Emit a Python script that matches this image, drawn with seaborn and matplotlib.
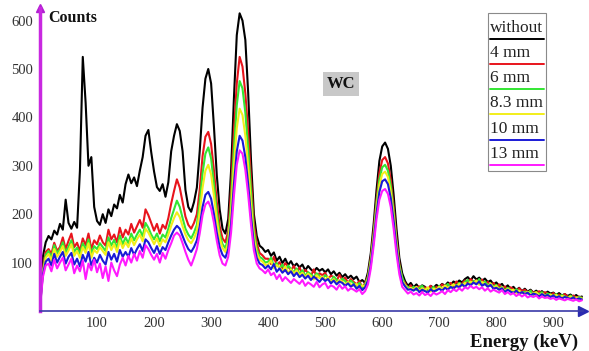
import matplotlib
matplotlib.use("Agg")
import matplotlib.pyplot as plt
import seaborn as sns
import pandas as pd
from matplotlib.patches import Rectangle
from matplotlib.lines import Line2D

# ---- data (5 keV channels, 0..950 keV) ----
energy = list(range(0, 955, 5))

without = [20, 112, 142, 155, 148, 166, 158, 180, 168, 230,
           182, 170, 184, 172, 290, 525, 430, 300, 318, 215,
           186, 178, 200, 182, 210, 196, 220, 212, 240, 224,
           262, 282, 264, 276, 258, 290, 318, 362, 374, 328,
           288, 256, 248, 262, 236, 266, 330, 362, 386, 372,
           330, 250, 215, 205, 225, 255, 330, 420, 480, 500,
           470, 380, 280, 210, 170, 160, 190, 290, 440, 570,
           615, 600, 560, 450, 310, 200, 155, 135, 130, 122,
           126, 114, 121, 104, 112, 99, 108, 95, 103, 92,
           98, 90, 96, 84, 93, 86, 81, 89, 83, 87,
           80, 86, 76, 82, 73, 79, 70, 76, 68, 73,
           66, 71, 60, 64, 58, 80, 120, 180, 250, 310,
           340, 348, 335, 300, 240, 170, 110, 78, 62, 52,
           58, 49, 55, 47, 53, 50, 44, 52, 48, 54,
           50, 56, 52, 59, 54, 61, 57, 63, 59, 66,
           70, 63, 72, 65, 69, 62, 67, 60, 63, 55,
           59, 52, 56, 47, 53, 45, 50, 43, 48, 41,
           46, 40, 44, 38, 42, 37, 41, 35, 40, 36,
           38, 33, 37, 32, 35, 31, 34, 29, 33, 28,
           30]

mm4 = [15, 85, 122, 128, 118, 141, 124, 132, 152, 128,
       145, 160, 132, 141, 124, 150, 136, 160, 128, 146,
       138, 156, 142, 135, 168, 148, 158, 142, 172, 152,
       168, 158, 180, 162, 175, 188, 172, 210, 198, 182,
       166, 180, 160, 178, 170, 192, 222, 248, 272, 255,
       225, 195, 178, 170, 182, 200, 250, 320, 360, 370,
       345, 290, 225, 175, 150, 142, 165, 250, 370, 470,
       525, 505, 450, 370, 270, 180, 140, 120, 115, 108,
       108, 97, 112, 94, 101, 88, 99, 92, 84, 93,
       80, 90, 76, 85, 79, 72, 86, 70, 78, 74,
       79, 66, 73, 70, 62, 75, 64, 69, 58, 66,
       60, 55, 62, 48, 58, 72, 110, 165, 230, 285,
       312, 318, 305, 270, 215, 150, 98, 66, 58, 47,
       53, 44, 48, 51, 41, 49, 45, 52, 43, 50,
       47, 55, 49, 53, 58, 50, 61, 54, 57, 63,
       58, 66, 60, 63, 57, 65, 55, 60, 52, 58,
       50, 55, 46, 51, 43, 49, 45, 40, 47, 41,
       44, 37, 42, 38, 35, 41, 34, 39, 36, 32,
       37, 31, 34, 29, 35, 30, 27, 32, 28, 30,
       27]

mm6 = [12, 80, 116, 124, 110, 136, 119, 128, 142, 120,
       133, 146, 122, 131, 118, 140, 127, 148, 118, 134,
       128, 140, 132, 124, 152, 135, 147, 130, 156, 138,
       152, 140, 160, 146, 158, 168, 154, 182, 172, 158,
       148, 160, 144, 158, 152, 170, 192, 210, 228, 215,
       192, 170, 158, 150, 162, 178, 225, 285, 325, 338,
       315, 262, 205, 160, 138, 130, 152, 225, 335, 425,
       475, 460, 410, 335, 245, 165, 128, 112, 108, 100,
       102, 110, 93, 99, 88, 96, 83, 94, 87, 80,
       88, 77, 84, 73, 80, 76, 69, 78, 72, 66,
       74, 68, 61, 71, 65, 59, 67, 62, 56, 63,
       57, 52, 58, 47, 55, 70, 106, 158, 222, 272,
       297, 302, 290, 258, 205, 143, 94, 70, 53, 50,
       46, 50, 43, 48, 52, 42, 47, 44, 50, 42,
       52, 46, 50, 56, 48, 55, 52, 58, 53, 60,
       64, 56, 62, 58, 66, 55, 61, 53, 57, 50,
       54, 46, 50, 42, 48, 44, 39, 45, 41, 37,
       40, 36, 42, 33, 38, 35, 39, 31, 36, 34,
       31, 35, 29, 33, 30, 27, 32, 28, 26, 29,
       27]

mm83 = [12, 78, 110, 118, 104, 128, 112, 122, 134, 114,
        125, 138, 114, 124, 110, 132, 120, 140, 110, 126,
        120, 132, 124, 116, 142, 126, 138, 122, 146, 130,
        142, 132, 150, 136, 148, 158, 144, 170, 162, 150,
        138, 150, 134, 148, 142, 158, 176, 192, 204, 194,
        175, 158, 146, 140, 150, 165, 205, 255, 290, 302,
        282, 238, 188, 150, 130, 122, 142, 205, 300, 378,
        418, 405, 362, 298, 220, 152, 120, 106, 102, 95,
        96, 104, 88, 95, 90, 82, 92, 79, 86, 77,
        84, 74, 79, 70, 77, 72, 65, 74, 68, 71,
        64, 70, 60, 66, 58, 64, 61, 54, 60, 55,
        52, 56, 47, 53, 50, 67, 101, 152, 212, 260,
        283, 288, 277, 246, 196, 137, 90, 62, 54, 45,
        48, 44, 50, 41, 47, 43, 49, 40, 46, 44,
        50, 45, 53, 47, 51, 55, 49, 56, 52, 58,
        55, 61, 57, 63, 54, 60, 56, 50, 57, 48,
        52, 44, 49, 41, 46, 42, 44, 37, 42, 38,
        36, 40, 34, 37, 39, 32, 36, 33, 30, 34,
        30, 33, 27, 31, 29, 26, 30, 25, 28, 26,
        26]

mm10 = [10, 75, 102, 108, 94, 118, 100, 112, 122, 98,
        112, 120, 96, 108, 92, 116, 102, 122, 94, 110,
        100, 116, 104, 96, 122, 106, 118, 102, 126, 112,
        122, 112, 130, 116, 128, 138, 124, 148, 142, 130,
        120, 134, 118, 132, 126, 142, 156, 168, 176, 170,
        155, 140, 128, 122, 132, 146, 175, 215, 240, 246,
        232, 200, 162, 132, 116, 110, 128, 180, 262, 330,
        362, 352, 318, 262, 195, 138, 110, 98, 95, 88,
        94, 86, 97, 81, 88, 79, 85, 76, 82, 72,
        79, 70, 75, 67, 73, 64, 71, 66, 60, 68,
        62, 66, 57, 63, 55, 61, 58, 52, 57, 50,
        55, 46, 52, 43, 49, 63, 96, 145, 202, 246,
        268, 272, 262, 233, 186, 130, 86, 60, 51, 44,
        45, 42, 47, 39, 44, 41, 38, 45, 40, 43,
        46, 42, 48, 44, 50, 46, 52, 49, 55, 50,
        57, 53, 59, 55, 61, 52, 56, 50, 54, 46,
        48, 44, 47, 39, 44, 40, 37, 42, 36, 39,
        35, 38, 32, 36, 34, 30, 35, 31, 33, 29,
        32, 28, 30, 26, 29, 27, 25, 28, 24, 26,
        24]

mm13 = [8, 70, 94, 98, 82, 106, 88, 100, 110, 84,
        96, 108, 78, 94, 82, 104, 66, 98, 84, 106,
        80, 98, 68, 92, 62, 100, 84, 72, 96, 110,
        94, 114, 100, 118, 104, 124, 110, 136, 128, 116,
        106, 118, 100, 120, 108, 126, 140, 156, 162, 156,
        140, 122, 106, 94, 110, 128, 160, 198, 220, 226,
        212, 182, 145, 115, 98, 94, 112, 162, 238, 302,
        332, 325, 292, 240, 178, 125, 98, 88, 84, 78,
        86, 74, 79, 66, 75, 62, 70, 64, 58, 66,
        61, 56, 64, 52, 59, 55, 50, 60, 49, 55,
        58, 47, 53, 50, 44, 54, 46, 51, 42, 47,
        44, 40, 45, 35, 41, 55, 88, 135, 190, 230,
        248, 252, 242, 215, 170, 118, 76, 50, 43, 36,
        40, 34, 37, 32, 39, 33, 36, 31, 38, 34,
        37, 41, 35, 43, 39, 45, 41, 47, 42, 49,
        46, 52, 47, 50, 45, 49, 42, 47, 40, 44,
        41, 38, 43, 35, 39, 34, 37, 31, 35, 30,
        34, 28, 31, 29, 32, 26, 30, 27, 28, 25,
        27, 23, 26, 24, 22, 25, 23, 21, 24, 20,
        22]

series_names = ["without", "4 mm", "6 mm", "8.3 mm", "10 mm", "13 mm"]
series_values = [without, mm4, mm6, mm83, mm10, mm13]
series_colors = ["#000000", "#e8141c", "#33e633", "#f2ee1a", "#1a1ad6", "#ff1aff"]
x_ticks = [100, 200, 300, 400, 500, 600, 700, 800, 900]
y_ticks = [100, 200, 300, 400, 500, 600]

frames = []
for name, vals in zip(series_names, series_values):
    frames.append(pd.DataFrame({"Energy": energy, "Counts": vals, "Sample": name}))
df = pd.concat(frames, ignore_index=True)

sns.set_style("white")
plt.rcParams["font.family"] = ["Liberation Serif", "DejaVu Serif"]

W, H = 589, 351
fig = plt.figure(figsize=(W / 100, H / 100), dpi=100)
ax = fig.add_axes([40 / W, 40 / H, 543 / W, 303 / H])

sns.lineplot(data=df, x="Energy", y="Counts", hue="Sample",
             hue_order=series_names, palette=series_colors,
             estimator=None, sort=False, linewidth=1.5, legend=False, ax=ax)

ax.set_xlim(0, 952)
ax.set_ylim(0, 626)
ax.set_xlabel("")
ax.set_ylabel("")
ax.set_xticks(x_ticks)
ax.set_yticks(y_ticks)
ax.tick_params(axis="x", direction="in", length=3, width=1, color="#3a3aa8",
               pad=4, labelsize=10.5, labelcolor="#333333")
ax.tick_params(axis="y", length=0, pad=5, labelsize=10.5, labelcolor="#333333")

for s in ["top", "right"]:
    ax.spines[s].set_visible(False)
ax.spines["bottom"].set_color("#3a3aa8")
ax.spines["bottom"].set_linewidth(1.2)
ax.spines["left"].set_color("#c828e0")
ax.spines["left"].set_linewidth(2.5)

# axis arrows
ax.plot([1.0], [0.0], marker=">", ms=7, color="#2a2ab0", transform=ax.transAxes, clip_on=False)
ax.plot([0.0], [1.0], marker="^", ms=6, color="#b020d0", transform=ax.transAxes, clip_on=False)

# axis titles
fig.text(48 / W, 1 - 18 / H, "Counts", ha="left", va="center",
         fontsize=11.5, fontweight="bold", color="#111111")
fig.text(578 / W, 1 - 342 / H, "Energy (keV)", ha="right", va="center",
         fontsize=13.5, fontweight="bold", color="#111111")

# WC label
fig.text(341 / W, 1 - 84 / H, "WC", ha="center", va="center",
         fontsize=12, fontweight="bold", color="#111111",
         bbox=dict(boxstyle="square,pad=0.25", facecolor="#c8c8c8", edgecolor="none"))

# legend box (text with coloured line underneath)
lx0, lx1, ly0, ly1 = 488, 546, 13, 171
fig.patches.append(Rectangle((lx0 / W, 1 - ly1 / H), (lx1 - lx0) / W, (ly1 - ly0) / H,
                             transform=fig.transFigure, facecolor="white",
                             edgecolor="#8a8a8a", linewidth=0.8, zorder=5))
for i, (name, col) in enumerate(zip(series_names, series_colors)):
    line_y = 38.5 + 25.3 * i
    fig.lines.append(Line2D([(lx0 + 2) / W, (lx1 - 2) / W], [1 - line_y / H, 1 - line_y / H],
                            transform=fig.transFigure, color=col, linewidth=1.4, zorder=6))
    fig.text((lx0 + 2) / W, 1 - (line_y - 3) / H, name, ha="left", va="bottom",
             fontsize=12.5, color="#222222", zorder=7)

fig.savefig("out.png", dpi=100)
